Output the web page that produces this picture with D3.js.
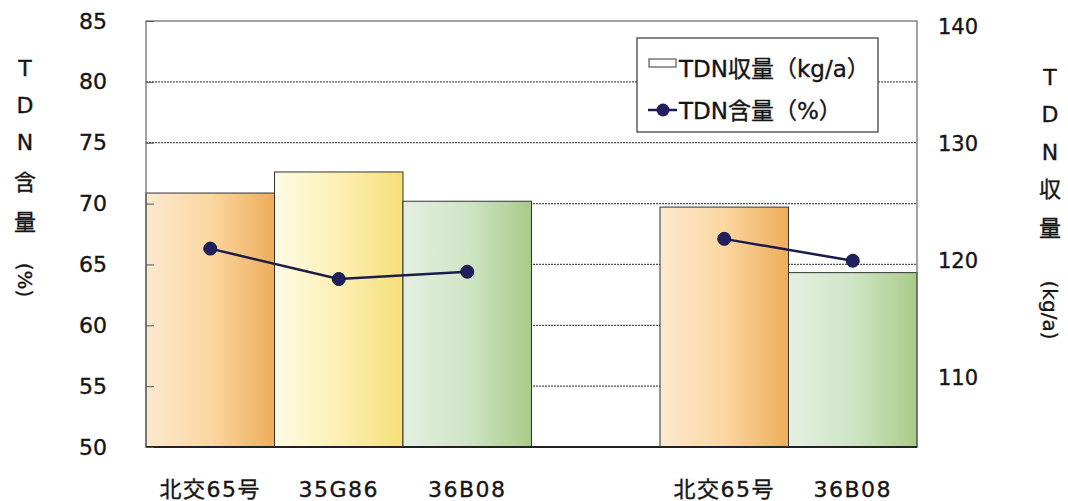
<!DOCTYPE html>
<html><head><meta charset="utf-8">
<script src="https://cdn.jsdelivr.net/npm/d3@7"></script>
<style>
body{margin:0;background:#fff;}
text{font-family:"DejaVu Sans","Noto Sans CJK JP",sans-serif;fill:#151515;stroke:#151515;stroke-width:0.35px;}
</style></head>
<body><svg id="c" width="1068" height="501"></svg>
<script>
const categories = ["北交65号","35G86","36B08","","北交65号","36B08"];
const yieldValues = [125.8, 127.6, 125.1, null, 124.6, 119.0];   // TDN収量 (kg/a)
const contentValues = [66.3, 63.8, 64.4, null, 67.1, 65.3];      // TDN含量 (%)
const leftTicks = [50,55,60,65,70,75,80,85];
const rightTicks = [110,120,130,140];
const gridTicks = [55,60,65,70,75,80];

const svg = d3.select("#c");
const L=146, R=917, T=21, B=447;

const x = d3.scaleBand().domain(d3.range(categories.length)).range([L,R]).padding(0);
const yL = d3.scaleLinear().domain([50,85]).range([B,T]);
const yR = d3.scaleLinear().domain([104.1,140.5]).range([B,T]);

const defs = svg.append("defs");
const grads = {
  "北交65号": ["#fce9cf","#fbd7a2","#eead5a"],
  "35G86":   ["#fdfbe6","#fdf0b4","#f5df78"],
  "36B08":   ["#e4f0e2","#cfe5c6","#a8cb8a"]
};
Object.entries(grads).forEach(([k,c],i)=>{
  const g = defs.append("linearGradient").attr("id","g"+i).attr("x1","0").attr("x2","1").attr("y1","0").attr("y2","0");
  g.append("stop").attr("offset","0").attr("stop-color",c[0]);
  g.append("stop").attr("offset","0.5").attr("stop-color",c[1]);
  g.append("stop").attr("offset","1").attr("stop-color",c[2]);
  grads[k].id = "g"+i;
});

// gridlines
svg.append("g").selectAll("line").data(gridTicks).join("line")
  .attr("x1",L).attr("x2",R).attr("y1",d=>yL(d)).attr("y2",d=>yL(d))
  .attr("stroke","#555").attr("stroke-width",1.2).attr("stroke-dasharray","2,1");

// bars
const idx = d3.range(categories.length).filter(i=>yieldValues[i]!=null);
svg.append("g").selectAll("rect").data(idx).join("rect")
  .attr("x",i=>x(i)).attr("width",x.bandwidth())
  .attr("y",i=>yR(yieldValues[i])).attr("height",i=>B-yR(yieldValues[i]))
  .attr("fill",i=>"url(#"+grads[categories[i]].id+")")
  .attr("stroke","#333").attr("stroke-width",1);

// frame
svg.append("rect").attr("x",L).attr("y",T).attr("width",R-L).attr("height",B-T)
  .attr("fill","none").attr("stroke","#666").attr("stroke-width",1.2);
svg.append("line").attr("x1",L).attr("x2",R).attr("y1",B).attr("y2",B).attr("stroke","#222").attr("stroke-width",2);

// left axis
const ax = svg.append("g").attr("transform",`translate(${L},0)`)
  .call(d3.axisLeft(yL).tickValues(leftTicks).tickSizeInner(-8).tickSizeOuter(0).tickPadding(39));
ax.select(".domain").remove();
ax.selectAll("line").attr("stroke","#555");
ax.selectAll("text").attr("font-size",22).attr("fill","#151515");

// right axis
const ar = svg.append("g").attr("transform",`translate(${R},0)`)
  .call(d3.axisRight(yR).tickValues(rightTicks).tickSize(0).tickPadding(21));
ar.select(".domain").remove();
ar.selectAll("text").attr("font-size",21).attr("fill","#151515");

// bottom axis
const ab = svg.append("g").attr("transform",`translate(0,${B})`)
  .call(d3.axisBottom(x).tickSize(0).tickFormat(i=>categories[i]));
ab.select(".domain").remove();
ab.selectAll("text").attr("font-size",22).attr("dy",null).attr("y",50).attr("fill","#151515").attr("letter-spacing",1.5);

// line
const line = d3.line().defined(i=>contentValues[i]!=null)
  .x(i=>x(i)+x.bandwidth()/2).y(i=>yL(contentValues[i]));
svg.append("path").datum(d3.range(categories.length)).attr("d",line)
  .attr("fill","none").attr("stroke","#1c1c4a").attr("stroke-width",2.5);
svg.append("g").selectAll("circle").data(d3.range(categories.length).filter(i=>contentValues[i]!=null)).join("circle")
  .attr("cx",i=>x(i)+x.bandwidth()/2).attr("cy",i=>yL(contentValues[i])).attr("r",6.5)
  .attr("fill","#20205e").attr("stroke","#141440").attr("stroke-width",1);

// legend
const lg = svg.append("g");
lg.append("rect").attr("x",637).attr("y",38).attr("width",241).attr("height",94).attr("fill","#fff").attr("stroke","#444").attr("stroke-width",1.3);
lg.append("rect").attr("x",649).attr("y",59).attr("width",27).attr("height",8).attr("fill","#fff").attr("stroke","#555").attr("stroke-width",1.2);
lg.append("text").attr("x",679).attr("y",77).attr("font-size",23).text("TDN収量（kg/a）");
lg.append("line").attr("x1",648).attr("x2",677).attr("y1",110).attr("y2",110).attr("stroke","#1c1c4a").attr("stroke-width",2.5);
lg.append("circle").attr("cx",663).attr("cy",110).attr("r",6.5).attr("fill","#20205e");
lg.append("text").attr("x",679).attr("y",119).attr("font-size",23).text("TDN含量（%）");

// vertical axis titles
function vtitle(cx, chars, ys, rotText, rotY){
  const g = svg.append("g");
  g.selectAll("text.ch").data(chars).join("text").attr("class","ch")
    .attr("x",cx).attr("y",(d,i)=>ys[i]).attr("text-anchor","middle").attr("dominant-baseline","central")
    .attr("font-size",22).text(d=>d);
  g.append("text").attr("transform",`translate(${cx},${rotY}) rotate(90)`)
    .attr("text-anchor","middle").attr("dominant-baseline","central").attr("font-size",20).text(rotText);
}
vtitle(25, ["T","D","N","含","量"], [68,105,142,182,222], "(%)", 280);
vtitle(1050, ["T","D","N","収","量"], [77,114,152,189,228], "(kg/a)", 310);
</script></body></html>
